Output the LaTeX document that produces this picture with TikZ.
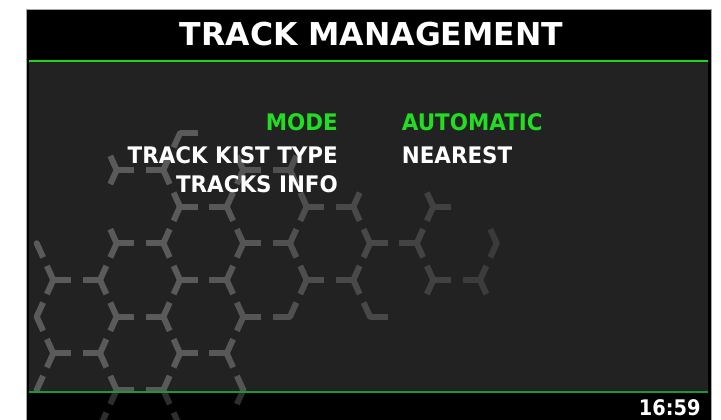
\documentclass[tikz,border=0pt]{standalone}
\usepackage{fontspec}
\setmainfont{DejaVu Sans}

\definecolor{screenbg}{RGB}{34,34,34}
\definecolor{hexlight}{RGB}{90,90,90}
\definecolor{hexdark}{RGB}{58,58,58}
\definecolor{hexdim}{RGB}{46,46,46}
\definecolor{lcdgreen}{RGB}{34,222,34}
\definecolor{topgreen}{RGB}{30,215,30}
\definecolor{lowgreen}{RGB}{28,150,56}

\tikzset{
  arm/.style={line width=6pt, line cap=butt},
  menutext/.style={inner sep=0pt, font=\fontsize{22.8}{26}\selectfont\bfseries, xscale=0.94},
}

\newcommand\hexvertices{%
  R/180/133.3/{h,d},
  R/116.7/170/{u,d,h}, L/163.3/170/{u,d,h}, R/243.3/170/{u,d,h}, L/290/170/{h,u,d},
  R/180/206.7/{u,d,h}, L/226.7/206.7/{u,d,h}, R/306.7/206.7/{u,d,h}, L/353.3/206.7/{u,d,h}, R/433.3/206.7/{u,d,h},
  L/36.7/243.3/{d}, R/116.7/243.3/{u,d,h}, L/163.3/243.3/{u,d,h}, R/243.3/243.3/{u,d,h}, L/290/243.3/{u,d,h}, R/370/243.3/{u,d,h}, L/416.7/243.3/{u,d,h}, R/496.7/243.3/{u,d},
  R/53.3/280/{u,d,h}, L/100/280/{u,d,h}, R/180/280/{u,d,h}, L/226.7/280/{u,d,h}, R/306.7/280/{u,d,h}, L/353.3/280/{u,d,h}, R/433.3/280/{u,d,h}, L/480/280/{u,d,h},
  L/36.7/316.7/{u,d}, R/116.7/316.7/{u,d,h}, L/163.3/316.7/{u,d,h}, R/243.3/316.7/{u,d,h}, L/290/316.7/{h,u}, R/370/316.7/{u,h},
  R/53.3/353.3/{u,d,h}, L/100/353.3/{u,d,h}, R/180/353.3/{u,d,h}, L/226.7/353.3/{u,d,h},
  L/36.7/390/{u}, R/116.7/390/{u,d,h}, L/163.3/390/{u,d,h}, R/243.3/390/{u,d},
  L/100/426.7/{u}, R/180/426.7/{u}%
}

\newcommand\drawhex[1]{%
  \foreach \t/\x/\y/\arms in \hexvertices {
    \pgfmathtruncatemacro\p{max(0,min(100,(500-\x)/3))}
    \if\t R\def\s{1}\else\def\s{-1}\fi
    \pgfmathsetmacro\hx{17.5*\s}
    \pgfmathsetmacro\ax{-6.4*\s}
    \fill[color=#1] (\x,\y) circle (3pt);
    \foreach \a in \arms {
      \if\a h\draw[arm,color=#1] (\x,\y) -- ++(\hx,0);\fi
      \if\a u\draw[arm,color=#1] (\x,\y) -- ++(\ax,-14.1);\fi
      \if\a d\draw[arm,color=#1] (\x,\y) -- ++(\ax,14.1);\fi
    }
  }%
}

\begin{document}
\begin{tikzpicture}[x=1pt, y=-1pt]
\useasboundingbox (0,0) rectangle (721,420);
\fill[white] (0,0) rectangle (721,420);
\filldraw[fill=black, draw=gray!70, line width=0.7pt] (26,9) rectangle (711,421);
\fill[screenbg] (29,62) rectangle (708,391);

\begin{scope}
  \clip (29,62) rectangle (708,391);
  \drawhex{hexlight!\p!hexdark}
\end{scope}
\begin{scope}
  \clip (26.5,393) rectangle (710.5,420);
  \drawhex{hexdim}
\end{scope}

\draw[topgreen, line width=1.6pt] (29,61.3) -- (708,61.3);
\draw[lowgreen, line width=1.7pt] (29,391.8) -- (708,391.8);

\node[inner sep=0pt, text=white, font=\fontsize{31.5}{36}\selectfont\bfseries, anchor=base] (title) at (371.5,45.7) {TRACK MANAGEMENT};

\node[menutext, text=lcdgreen, anchor=base east] (mode) at (338,130) {MODE};
\node[menutext, text=lcdgreen, anchor=base west] (modeval) at (401.7,130) {AUTOMATIC};
\node[menutext, text=white, anchor=base east] (listtype) at (338,163.3) {TRACK KIST TYPE};
\node[menutext, text=white, anchor=base west] (listval) at (401.7,163.3) {NEAREST};
\node[menutext, text=white, anchor=base east] (info) at (338,192.5) {TRACKS INFO};

\node[inner sep=0pt, text=white, font=\fontsize{21.5}{24}\selectfont\bfseries, xscale=0.9, anchor=base east] (clock) at (700.7,415.5) {16:59};
\end{tikzpicture}
\end{document}
